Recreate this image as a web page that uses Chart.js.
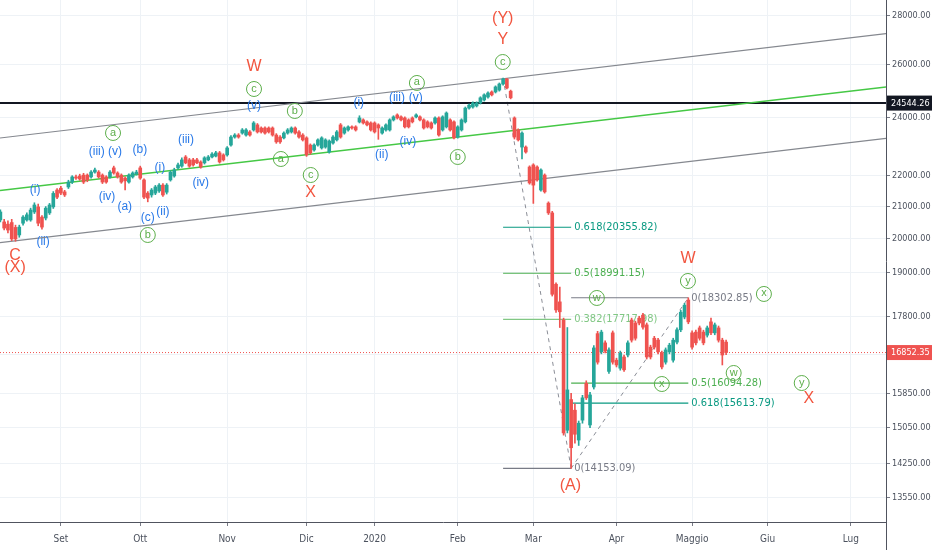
<!DOCTYPE html>
<html><head><meta charset="utf-8">
<script src="https://cdn.jsdelivr.net/npm/chart.js@4.4.1/dist/chart.umd.min.js"></script>
<style>html,body{margin:0;padding:0;background:#fff}#wrap{width:932px;height:550px;position:relative}</style>
</head><body><div id="wrap"><canvas id="c" width="932" height="550"></canvas></div>
<script>
// trading-day index of the first candle (0 = 2 Sep 2019, first session of "Set")
const firstIndex = -16;

const opens = [
 20580,20520,20450,20500,20350,20120,20480,20580,20580,20830,
 20990,20670,20640,20800,20990,21530,21590,21470,21630,21790,
 21960,21990,22020,22020,21960,22120,22120,22020,21960,21960,
 22260,22090,22020,21920,21790,21960,22060,22260,21860,21430,
 21370,21430,21500,21690,21460,21860,21990,22260,22320,22630,
 22530,22530,22530,22460,22430,22530,22630,22660,22770,22700,
 22700,23040,23320,23390,23460,23390,23500,23570,23750,23640,
 23640,23640,23640,23390,23320,23290,23460,23500,23640,23500,
 23390,23290,23040,22870,23040,22940,22970,22800,23110,23220,
 23750,23460,23570,23680,23680,23855,23930,23860,23820,23820,
 23750,23460,23570,23570,23930,24110,24040,24000,23930,24000,
 24040,24040,23930,23860,23820,23820,24000,23570,23680,23930,
 23860,23320,23570,23860,24360,24400,24440,24550,24660,24770,
 24960,24960,25030,25260,25450,24990,24000,23570,22970,22970,
 22290,22360,22290,21530,22020,21110,20800,18680,18190,17700,
 14990,15700,15450,14770,15220,16090,15110,16000,17340,16870,
 17100,16380,17360,16660,16460,16740,16790,17700,17620,17750,
 17830,17570,16990,17220,17170,16840,16610,16870,16660,17120,
 17440,17780,18240,17360,17380,17490,17380,17300,17650,17360,
 17490,17170,17120];
const highs = [
 20900,20600,20550,20600,20420,20420,20720,20800,20950,21120,
 21080,20720,21000,21100,21480,21580,21650,21520,21850,22000,
 22020,22050,22080,22060,22170,22250,22170,22060,22000,22170,
 22320,22130,22060,21960,22060,22130,22180,22320,21900,21480,
 21580,21680,21740,21740,21740,22170,22250,22420,22600,22680,
 22580,22580,22580,22500,22640,22680,22780,22820,22820,22740,
 22990,23370,23440,23440,23620,23620,23550,23870,23800,23680,
 23680,23680,23680,23440,23370,23500,23620,23680,23680,23550,
 23440,23330,23080,23080,23260,23330,23260,23220,23370,23550,
 23800,23680,23720,23720,23720,24080,23970,23900,23860,23860,
 23790,23680,23790,23970,24080,24150,24080,24040,23970,24040,
 24150,24080,23970,23900,23860,24040,24040,24080,24220,23970,
 23900,23720,23970,24400,24510,24590,24590,24780,24890,24960,
 25000,25190,25300,25483,25480,25030,24040,23610,23500,23010,
 22330,22400,22330,22230,22060,21150,20850,18720,18600,17750,
 17500,15850,15600,15200,15800,16150,15870,17030,17400,17430,
 17150,16970,17410,16710,16890,16790,17150,17750,17670,17800,
 17880,17620,17040,17270,17220,16890,16970,17090,17220,17490,
 17960,18150,18302.85,17410,17430,17540,17430,17540,17750,17620,
 17540,17220,17170];
const lows = [
 20520,20270,20180,19950,19930,20050,20420,20540,20540,20780,
 20400,20300,20580,20750,20940,21250,21380,21320,21580,21740,
 21880,21850,21740,21800,21920,22080,21920,21740,21750,21920,
 22050,21920,21750,21530,21750,21920,22020,21880,21250,21150,
 21300,21380,21450,21320,21400,21820,21950,22220,22280,22400,
 22280,22320,22400,22250,22390,22500,22600,22630,22420,22490,
 22660,23000,23280,23280,23420,23350,23350,23530,23460,23460,
 23420,23460,23350,23100,23100,23250,23420,23460,23420,23280,
 23180,22650,22720,22830,23000,22900,22930,22760,23070,23180,
 23280,23420,23530,23600,23530,23820,23780,23710,23530,23460,
 23240,23420,23530,23530,23890,23960,23890,23640,23640,23820,
 24000,23890,23600,23640,23600,23780,23350,23530,23640,23530,
 23250,23280,23530,23820,24320,24360,24400,24510,24620,24730,
 24810,24920,24990,25220,25070,24700,23250,23180,22560,22760,
 21720,21100,21820,21490,21430,20750,18350,17900,17500,14880,
 14930,14153.09,14700,14650,15150,15700,15050,15950,16560,16820,
 16840,16330,16560,16490,16410,16380,16740,17120,17170,17570,
 17460,16690,16690,16940,16820,16440,16560,16820,16610,17070,
 17390,17730,17600,16940,17050,17170,17050,17250,17310,17310,
 17120,16540,16800];
const closes = [
 20830,20330,20270,20000,20000,20360,20670,20740,20890,21050,
 20480,20360,20950,21050,21420,21300,21430,21370,21790,21960,
 21920,21890,21790,21860,22120,22190,21960,21790,21790,22120,
 22090,21960,21790,21830,22020,22090,22120,21920,21300,21270,
 21530,21630,21690,21370,21690,22120,22190,22360,22530,22430,
 22320,22360,22430,22290,22600,22630,22730,22770,22460,22530,
 22940,23320,23390,23320,23570,23570,23390,23820,23500,23500,
 23460,23500,23390,23150,23150,23460,23570,23640,23460,23320,
 23220,22700,22770,23040,23220,23290,23220,23180,23320,23500,
 23320,23640,23680,23640,23570,24000,23820,23750,23570,23500,
 23640,23640,23750,23930,24040,24000,23930,23680,23680,23860,
 24110,23930,23640,23680,23640,24000,23390,24040,24180,23570,
 23290,23680,23930,24360,24470,24550,24550,24740,24850,24920,
 24850,25150,25260,25450,25110,24740,23320,23220,23460,22800,
 21760,21690,21860,22190,21470,20800,18400,17970,17920,14930,
 15930,14600,14900,15150,15740,15740,15810,16970,16610,17380,
 16890,16920,16610,16540,16840,16420,17100,17170,17220,17620,
 17510,16740,16740,16990,16870,16490,16920,17040,17170,17440,
 17910,18100,17650,16990,17100,17220,17100,17490,17360,17570,
 17170,16790,16852.35];

const monthLabels = ['Set','Ott','Nov','Dic','2020','Feb','Mar','Apr','Maggio','Giu','Lug'];
const monthIndex  = [0,21,44,65,83,105,125,147,167,187,209];
const priceTicks  = [13550,14250,15050,15850,16800,17800,19000,20000,21000,22000,24000,26000,28000];
const xRange = [-16.1, 218.3];
const yRange = [13054, 28670];

const lastPrice  = 16852.35;
const levelPrice = 24544.26;

// channel lines: [startIndex, startPrice, endIndex, endPrice]
const channelGrey  = [[-16.1, 23286, 218.3, 27255], [-16.1, 19887, 218.3, 23275]];
const channelGreen = [-16.1, 21515, 218.3, 25147];

// Fibonacci retracements
const fib1Ratios = ['0.618','0.5','0.382','0'];
const fib1Prices = [20355.82, 18991.15, 17717.98, 14153.09];
const fib1Span   = [117, 135];
const fib2Ratios = ['0','0.5','0.618'];
const fib2Prices = [18302.85, 16094.28, 15613.79];
const fib2Span   = [135, 166];
const fibDiag = [[117, 25483, 135, 14153.09], [135, 14153.09, 166, 18302.85]];

// wave labels: [text, index, price]
const waveBlue = [
 ['(i)',-6.8,21531],['(ii)',-4.7,19908],['(iii)',9.5,22800],['(v)',14.3,22800],['(b)',20.9,22869],
 ['(iv)',12.2,21305],['(a)',16.9,20987],['(c)',23.0,20641],['(ii)',27.0,20829],['(i)',26.2,22257],
 ['(iii)',33.1,23216],['(iv)',37.0,21759],['(v)',51.1,24437],['(i)',78.8,24548],['(ii)',84.9,22697],
 ['(iii)',88.9,24733],['(v)',93.9,24733],['(iv)',91.8,23146]];
const waveCircled = [
 ['a',13.8,23463],['b',23.0,20119],['c',51.1,25071],['b',61.9,24254],['a',58.2,22561],['c',66.1,22023],
 ['a',94.2,25300],['b',105.0,22629],['c',116.9,26112],['w',141.8,18297],['y',165.9,18772],['x',186.0,18408],
 ['x',159.0,16072],['w',178.0,16341],['y',196.0,16096]];
const waveRed = [
 ['(Y)',116.9,27861],['Y',116.9,26993],['W',51.1,25917],['X',66.1,21434],['C',-12.1,19493],['(X)',-12.1,19142],
 ['W',165.9,19404],['(A)',134.8,13782],['X',197.9,15713]];

const UP='#26a69a', DOWN='#ef5350';
const FIBCOL={'0':'#787b86','0.382':'#81c784','0.5':'#4caf50','0.618':'#089981'};
const AXF="'Liberation Sans Narrow','DejaVu Sans Condensed',sans-serif";
const TXF="'Liberation Sans',Arial,sans-serif";

const idx = closes.map((_,k)=>firstIndex+k);
const cols = closes.map((c,k)=> c>=opens[k]?UP:DOWN);

function seg(x1,y1,x2,y2,color,width,dash,order){
  return {type:'line',data:[{x:x1,y:y1},{x:x2,y:y2}],borderColor:color,borderWidth:width,
    borderDash:dash||[],pointRadius:0,fill:false,tension:0,order:order||2};
}
const datasets=[
 {type:'bar',data:idx.map((x,k)=>({x,y:[lows[k],highs[k]]})),backgroundColor:cols,barThickness:1,grouped:false,order:0},
 {type:'bar',data:idx.map((x,k)=>({x,y:[opens[k],closes[k]]})),backgroundColor:cols,barThickness:3,grouped:false,minBarLength:1,order:0},
];
channelGrey.forEach(c=>datasets.push(seg(c[0],c[1],c[2],c[3],'#85888f',1.2)));
datasets.push(seg(channelGreen[0],channelGreen[1],channelGreen[2],channelGreen[3],'#45c845',1.4));
datasets.push(seg(xRange[0],levelPrice,xRange[1],levelPrice,'#131722',2));
datasets.push(seg(xRange[0],lastPrice,xRange[1],lastPrice,'#ef5350',1,[1,2]));
fib1Prices.forEach((p,k)=>datasets.push(seg(fib1Span[0],p,fib1Span[1],p,FIBCOL[fib1Ratios[k]],1.2)));
fib2Prices.forEach((p,k)=>datasets.push(seg(fib2Span[0],p,fib2Span[1],p,FIBCOL[fib2Ratios[k]],1.2)));
fibDiag.forEach(d=>datasets.push(seg(d[0],d[1],d[2],d[3],'#8a8d96',1,[4,4])));

const annot={
 id:'annot',
 beforeDatasetsDraw(chart){
   const {ctx,scales:{x,y}}=chart;
   ctx.save();
   ctx.font="11px "+AXF; ctx.textAlign='left'; ctx.textBaseline='middle';
   const draw=(ratios,prices,span)=>prices.forEach((p,k)=>{
     ctx.fillStyle=FIBCOL[ratios[k]];
     ctx.fillText(ratios[k]+'('+p.toFixed(2)+')', x.getPixelForValue(span[1])+3, y.getPixelForValue(p));
   });
   draw(fib1Ratios,fib1Prices,fib1Span);
   draw(fib2Ratios,fib2Prices,fib2Span);
   ctx.restore();
 },
 afterDatasetsDraw(chart){
   const {ctx,scales:{x,y}}=chart;
   ctx.save();
   ctx.textAlign='center'; ctx.textBaseline='middle';
   ctx.font="12px "+TXF; ctx.fillStyle='#2979e8';
   waveBlue.forEach(([t,i,v])=>ctx.fillText(t,x.getPixelForValue(i),y.getPixelForValue(v)));
   ctx.font="11px "+TXF; ctx.strokeStyle='#5cae4a'; ctx.fillStyle='#5cae4a'; ctx.lineWidth=1;
   waveCircled.forEach(([t,i,v])=>{
     const px=x.getPixelForValue(i), py=y.getPixelForValue(v);
     ctx.beginPath(); ctx.arc(px,py,7.5,0,Math.PI*2); ctx.stroke();
     ctx.fillText(t,px,py-0.5);
   });
   ctx.font="16px "+TXF; ctx.fillStyle='#f2553f';
   waveRed.forEach(([t,i,v])=>ctx.fillText(t,x.getPixelForValue(i),y.getPixelForValue(v)));
   ctx.restore();
 },
 afterDraw(chart){
   const {ctx,chartArea,scales:{y}}=chart;
   ctx.save();
   const box=(p,bg)=>{
     const py=y.getPixelForValue(p);
     ctx.fillStyle=bg; ctx.fillRect(chartArea.right+1,py-7.5,chart.width-chartArea.right-1,15);
     ctx.fillStyle='#fff'; ctx.font="9px "+AXF; ctx.textAlign='left'; ctx.textBaseline='middle';
     ctx.fillText(p.toFixed(2),chartArea.right+5,py+0.5);
   };
   box(levelPrice,'#131722');
   box(lastPrice,'#ef5350');
   ctx.strokeStyle='#50535e'; ctx.lineWidth=1;
   ctx.beginPath(); ctx.moveTo(chartArea.right+0.5,chartArea.bottom); ctx.lineTo(chartArea.right+0.5,chart.height); ctx.stroke();
   ctx.restore();
 }
};

new Chart(document.getElementById('c'),{
 type:'bar',
 data:{datasets},
 options:{
  responsive:false, animation:false,
  layout:{padding:0},
  plugins:{legend:{display:false},tooltip:{enabled:false}},
  scales:{
   x:{type:'linear',min:xRange[0],max:xRange[1],offset:false,
      grid:{color:'#eef2f6',tickLength:4,tickColor:'#787b86',offset:false},
      border:{color:'#50535e'},
      ticks:{font:{family:AXF,size:10},color:'#4c525e',padding:7,maxRotation:0,autoSkip:false,
        callback:(v,i)=>monthLabels[i]},
      afterBuildTicks:s=>{s.ticks=monthIndex.map(v=>({value:v}));},
      afterFit:s=>{s.height=28;s.paddingLeft=0;s.paddingRight=0;}},
   y:{type:'logarithmic',position:'right',min:yRange[0],max:yRange[1],
      grid:{color:'#eef2f6',tickLength:4,tickColor:'#787b86'},
      border:{color:'#50535e'},
      ticks:{font:{family:AXF,size:9},color:'#4c525e',padding:2,autoSkip:false,
        callback:v=>Number(v).toFixed(2)},
      afterBuildTicks:s=>{s.ticks=priceTicks.map(v=>({value:v}));},
      afterFit:s=>{s.width=46;s.paddingTop=0;s.paddingBottom=0;}}
  }
 },
 plugins:[annot]
});
</script></body></html>
